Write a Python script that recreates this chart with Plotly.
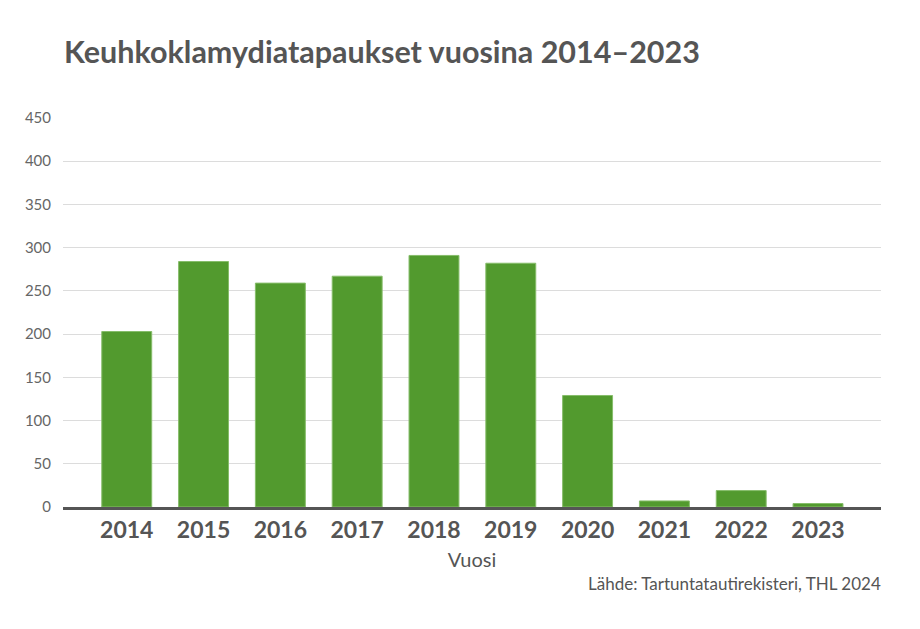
import plotly.graph_objects as go

years = ["2014", "2015", "2016", "2017", "2018", "2019", "2020", "2021", "2022", "2023"]
cases = [203, 284, 259, 267, 291, 282, 129, 7, 19, 4]
y_ticks = [0, 50, 100, 150, 200, 250, 300, 350, 400, 450]

title_text = "Keuhkoklamydiatapaukset vuosina 2014–2023"
x_title = "Vuosi"
source_text = "Lähde: Tartuntatautirekisteri, THL 2024"

font_family = "Lato, 'Open Sans', sans-serif"
txt = "#555555"

fig = go.Figure()
fig.add_trace(go.Bar(
    x=years, y=cases,
    marker=dict(color="#529a2e", line=dict(color="#86bd6a", width=1)),
    hoverinfo="x+y",
))

fig.update_layout(
    width=920, height=629,
    margin=dict(l=63, r=39, t=118, b=122, autoexpand=False),
    paper_bgcolor="white", plot_bgcolor="white",
    bargap=0.35,
    showlegend=False,
    font=dict(family=font_family, color=txt),
    title=dict(text="<b>" + title_text + "</b>", x=64/920, xanchor="left",
               y=1 - 52/629, yanchor="middle",
               font=dict(size=30.5, color=txt, family=font_family)),
    xaxis=dict(
        automargin=False,
        range=[-0.83, len(years) - 1 + 0.82],
        tickfont=dict(size=23, color=txt, family=font_family, weight="bold"),
        title=dict(text=x_title, font=dict(size=20, color=txt), standoff=12),
        showline=True, linecolor="#555555", linewidth=3,
        ticks="", showgrid=False,
    ),
    yaxis=dict(
        automargin=False,
        range=[0, 450], tickvals=y_ticks,
        tickfont=dict(size=15, color="#666666", weight="normal"),
        showgrid=True, gridcolor="#dcdcdc", gridwidth=1,
        zeroline=False, ticks="", ticklabelstandoff=11,
    ),
)

fig.add_annotation(
    text=source_text, xref="paper", yref="paper",
    x=1.002, y=-(583 - 507) / (507 - 118), xanchor="right", yanchor="middle",
    showarrow=False, font=dict(size=17, color=txt, family=font_family),
)

fig.write_html("out.html", config={"displayModeBar": False},
               post_script="document.body.style.margin='0';")
